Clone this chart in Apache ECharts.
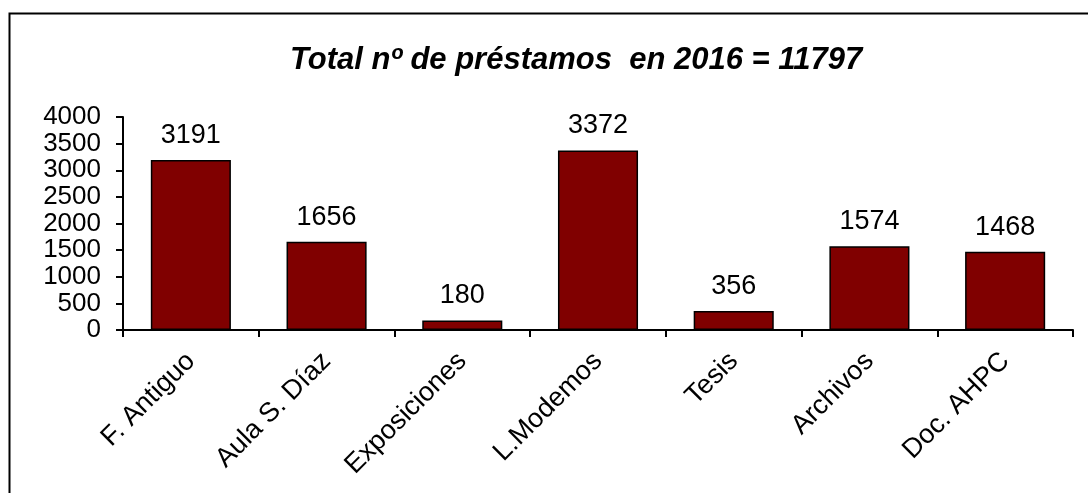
<!DOCTYPE html>
<html>
<head>
  <meta charset="utf-8">
  <title>Préstamos 2016</title>
  <script src="https://cdn.jsdelivr.net/npm/echarts@6.0.0/dist/echarts.min.js"></script>
</head>
<body style="margin:0; background:#fff;">
  <div id="main" style="width:1088px; height:493px;"></div>
  <script type="text/javascript">
    // chart data
    const categories = ['F. Antiguo', 'Aula S. Díaz', 'Exposiciones', 'L.Modemos', 'Tesis', 'Archivos', 'Doc. AHPC'];
    const loans = [3191, 1656, 180, 3372, 356, 1574, 1468];
    const yTicks = [0, 500, 1000, 1500, 2000, 2500, 3000, 3500, 4000];

    const font = '"Liberation Sans", Arial, sans-serif';
    var myChart = echarts.init(document.getElementById('main'));

    var option = {
      animation: false,
      backgroundColor: '#fff',
      title: {
        text: 'Total nº de préstamos  en 2016 = 11797',
        left: 285,
        top: 40,
        textStyle: {
          fontFamily: font,
          fontSize: 31,
          fontWeight: 'bold',
          fontStyle: 'italic',
          color: '#000'
        }
      },
      graphic: [{
        type: 'rect',
        shape: { x: 9.5, y: 13.5, width: 1100, height: 500 },
        style: { fill: 'none', stroke: '#000', lineWidth: 2 },
        silent: true
      }],
      grid: { left: 123, right: 15, top: 117, bottom: 163 },
      xAxis: {
        type: 'category',
        data: categories,
        axisLine: { lineStyle: { color: '#000', width: 2 } },
        axisTick: { show: true, length: 7, lineStyle: { color: '#000', width: 2 } },
        axisLabel: {
          rotate: 45,
          margin: 27,
          color: '#000',
          fontFamily: font,
          fontSize: 27
        }
      },
      yAxis: {
        type: 'value',
        min: yTicks[0],
        max: yTicks[yTicks.length - 1],
        interval: 500,
        splitLine: { show: false },
        axisLine: { show: true, lineStyle: { color: '#000', width: 2 } },
        axisTick: { show: true, length: 7, lineStyle: { color: '#000', width: 2 } },
        axisLabel: {
          margin: 22,
          color: '#000',
          fontFamily: font,
          fontSize: 26,
          lineHeight: 26,
          formatter: function (v) { return String(v); }
        }
      },
      series: [{
        name: 'Préstamos',
        type: 'bar',
        data: loans,
        barCategoryGap: '41%',
        itemStyle: { color: '#800000', borderColor: '#000', borderWidth: 1.5 },
        label: {
          show: true,
          position: 'top',
          distance: 11,
          color: '#000',
          fontFamily: font,
          fontSize: 27
        }
      }]
    };

    myChart.setOption(option);
  </script>
</body>
</html>
